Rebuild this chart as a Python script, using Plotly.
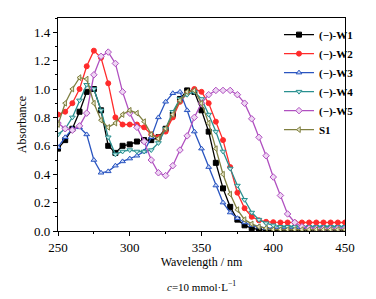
import plotly.graph_objects as go

wavelength = list(range(250, 451, 5))

w1 = [0.58, 0.64, 0.72, 0.84, 0.98, 1.00, 0.85, 0.60, 0.55, 0.60, 0.61, 0.63, 0.64, 0.64, 0.66,
      0.72, 0.82, 0.93, 0.99, 0.98, 0.85, 0.70, 0.48, 0.30, 0.17, 0.08, 0.04, 0.02, 0.01, 0.005,
      0.0, 0.0, 0.0, 0.0, 0.0, 0.0, 0.0, 0.0, 0.0, 0.0, 0.0]
w2 = [0.82, 0.84, 0.90, 1.00, 1.16, 1.27, 1.22, 1.04, 0.80, 0.75, 0.75, 0.75, 0.73, 0.68, 0.66,
      0.70, 0.80, 0.91, 0.97, 1.00, 0.98, 0.90, 0.77, 0.64, 0.45, 0.27, 0.16, 0.10, 0.075, 0.065,
      0.062, 0.06, 0.06, 0.06, 0.06, 0.06, 0.06, 0.06, 0.06, 0.06, 0.06]
w3 = [0.59, 0.66, 0.72, 0.73, 0.68, 0.50, 0.41, 0.42, 0.46, 0.49, 0.51, 0.53, 0.56, 0.66, 0.80,
      0.91, 0.97, 0.98, 0.85, 0.70, 0.58, 0.45, 0.32, 0.20, 0.13, 0.09, 0.06, 0.04, 0.03, 0.02,
      0.02, 0.02, 0.02, 0.02, 0.02, 0.02, 0.02, 0.02, 0.02, 0.02, 0.02]
w4 = [0.68, 0.72, 0.80, 0.92, 1.03, 1.00, 0.85, 0.66, 0.54, 0.56, 0.57, 0.56, 0.56, 0.57, 0.62,
      0.72, 0.84, 0.93, 0.96, 0.98, 0.93, 0.82, 0.70, 0.56, 0.44, 0.32, 0.22, 0.13, 0.08, 0.055,
      0.04, 0.03, 0.03, 0.03, 0.03, 0.03, 0.03, 0.03, 0.03, 0.03, 0.03]
w5 = [0.76, 0.72, 0.71, 0.74, 0.83, 1.10, 1.23, 1.26, 1.18, 0.98, 0.83, 0.73, 0.63, 0.50, 0.41,
      0.39, 0.46, 0.57, 0.67, 0.80, 0.90, 0.96, 0.99, 0.99, 0.99, 0.96, 0.90, 0.79, 0.66, 0.53,
      0.38, 0.25, 0.12, 0.06, 0.03, 0.02, 0.015, 0.015, 0.015, 0.015, 0.015]
s1 = [0.75, 0.90, 1.00, 1.08, 1.07, 0.90, 0.78, 0.73, 0.76, 0.82, 0.85, 0.83, 0.77, 0.68, 0.65,
      0.72, 0.82, 0.92, 0.98, 0.99, 0.90, 0.76, 0.58, 0.40, 0.26, 0.15, 0.08, 0.05, 0.03, 0.02,
      0.01, 0.01, 0.01, 0.01, 0.01, 0.01, 0.01, 0.01, 0.01, 0.01, 0.01]

series = [
    ("(−)-W1", w1, "#000000", "square", "#000000"),
    ("(−)-W2", w2, "#ff2b2b", "circle", "#ff2b2b"),
    ("(−)-W3", w3, "#2a55c0", "triangle-up", "#c8d6f5"),
    ("(−)-W4", w4, "#2a9090", "triangle-down", "#c8ecec"),
    ("(−)-W5", w5, "#b050c0", "diamond", "#eed6f3"),
    ("S1", s1, "#7f7f40", "triangle-left", "#e6e6c8"),
]

fig = go.Figure()
for name, vals, col, sym, fill in series:
    fig.add_trace(go.Scatter(
        x=wavelength, y=vals, name="<b>" + name + "</b>", mode="lines+markers",
        line=dict(color=col, width=1.3),
        marker=dict(symbol=sym, size=5, color=fill, line=dict(color=col, width=1)),
    ))

font_family = "Liberation Serif"
fig.update_layout(
    width=376, height=299,
    margin=dict(l=58, r=31, t=18, b=68),
    paper_bgcolor="white", plot_bgcolor="white",
    font=dict(family=font_family, size=12, color="black"),
    showlegend=True,
    legend=dict(x=0.77, y=0.99, xanchor="left", yanchor="top",
                bgcolor="rgba(0,0,0,0)", font=dict(family=font_family, size=11, color="black"),
                tracegroupgap=0, itemwidth=30),
    annotations=[dict(text="<i>c</i>=10 mmol·L<sup>−1</sup>", x=0.5, y=-0.258,
                      xref="paper", yref="paper", showarrow=False, yanchor="middle",
                      font=dict(family=font_family, size=11, color="black"))],
)
fig.update_xaxes(
    range=[250, 450], tickvals=[250, 300, 350, 400, 450], automargin=False,
    ticks="outside", ticklen=4, tickwidth=1, tickcolor="black",
    minor=dict(ticks="outside", ticklen=2, dtick=25, tickcolor="black"),
    showline=True, linecolor="black", linewidth=1.2, mirror=True,
    showgrid=False, zeroline=False,
    title=dict(text="Wavelength / nm", standoff=0, font=dict(size=12)),
    tickfont=dict(size=13),
)
fig.update_yaxes(
    range=[0, 1.5], tickvals=[0, 0.2, 0.4, 0.6, 0.8, 1.0, 1.2, 1.4], automargin=False,
    ticktext=["0.0", "0.2", "0.4", "0.6", "0.8", "1.0", "1.2", "1.4"],
    ticks="outside", ticklen=4, tickwidth=1, tickcolor="black",
    minor=dict(ticks="outside", ticklen=2, dtick=0.1, tickcolor="black"),
    showline=True, linecolor="black", linewidth=1.2, mirror=True,
    showgrid=False, zeroline=False,
    title=dict(text="Absorbance", standoff=4, font=dict(size=12)),
    tickfont=dict(size=13),
)

fig.write_html("out.html", config={"displayModeBar": False},
               post_script="document.body.style.margin='0';document.body.style.overflow='hidden';")
